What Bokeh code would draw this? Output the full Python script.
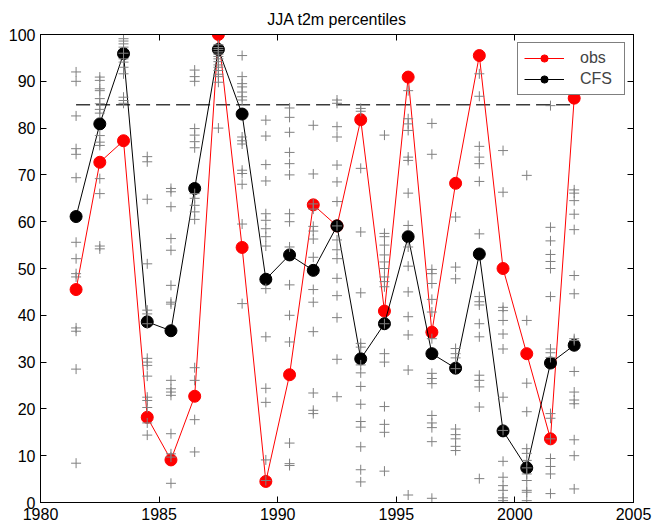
from bokeh.plotting import figure
from bokeh.models import Range1d, LinearAxis, FixedTicker, ColumnDataSource
from bokeh.embed import file_html
from bokeh.resources import INLINE

# x positions of each JJA season
years = [1981.5, 1982.5, 1983.5, 1984.5, 1985.5, 1986.5, 1987.5, 1988.5,
         1989.5, 1990.5, 1991.5, 1992.5, 1993.5, 1994.5, 1995.5, 1996.5,
         1997.5, 1998.5, 1999.5, 2000.5, 2001.5, 2002.5]

# observed t2m percentile
obs = [45.5, 72.7, 77.3, 18.2, 9.1, 22.7, 100.0, 54.5, 4.5, 27.3, 63.6,
       59.1, 81.8, 40.9, 90.9, 36.4, 68.2, 95.5, 50.0, 31.8, 13.6, 86.4]

# CFS forecast percentile
cfs = [61.1, 80.9, 95.9, 38.6, 36.7, 67.1, 96.8, 83.0, 47.7, 52.9, 49.6,
       59.1, 30.7, 38.2, 56.8, 31.8, 28.7, 53.1, 15.3, 7.4, 29.8, 33.6]

# individual CFS ensemble members, one list per season
ens_1981 = [92.0, 90.0, 82.6, 75.6, 74.4, 69.4, 55.6, 52.1, 48.9, 48.2, 37.3, 36.6, 28.5, 8.4]
ens_1982 = [90.9, 90.2, 88.4, 88.0, 86.3, 85.2, 84.0, 83.2, 78.4, 77.0, 76.3, 69.2, 66.0, 54.8, 54.2]
ens_1983 = [99.1, 98.6, 98.0, 97.3, 96.0, 94.8, 94.1, 93.0, 91.6, 86.6, 85.9, 85.3]
ens_1984 = [73.9, 72.8, 64.8, 51.0, 41.1, 40.3, 38.2, 30.8, 30.0, 29.3, 27.0, 22.5, 21.8, 20.3, 17.0, 14.4]
ens_1985 = [67.1, 66.4, 63.2, 56.4, 53.9, 46.4, 42.8, 42.4, 26.1, 24.3, 23.6, 22.9, 14.7, 10.4, 9.7, 4.1]
ens_1986 = [92.4, 91.0, 90.0, 79.9, 78.5, 77.1, 75.8, 66.0, 65.0, 63.5, 62.1, 60.5, 28.8, 26.1, 17.7, 10.8]
ens_1987 = [97.8, 97.2, 96.8, 96.3, 95.8, 95.3, 94.8, 94.2, 93.5, 93.0, 92.3, 91.5, 91.0, 89.8, 80.0]
ens_1988 = [95.5, 91.0, 89.5, 88.8, 87.7, 86.7, 86.0, 78.1, 77.3, 76.6, 71.0, 70.3, 68.0, 59.5, 42.5]
ens_1989 = [81.7, 78.3, 72.2, 68.7, 61.7, 60.3, 58.5, 56.8, 54.8, 45.7, 35.4, 24.4, 21.4, 9.1, 4.7]
ens_1990 = [84.3, 82.3, 79.1, 74.8, 72.4, 70.0, 61.7, 60.0, 54.6, 46.5, 40.0, 34.3, 12.7, 8.3, 7.9]
ens_1991 = [80.6, 70.2, 63.8, 62.7, 59.0, 58.0, 56.3, 52.4, 45.5, 42.8, 36.5, 23.4, 19.7, 19.0]
ens_1992 = [86.0, 85.3, 80.3, 78.1, 72.1, 68.5, 64.3, 59.1, 56.1, 54.0, 52.1, 47.9, 44.2, 39.5, 30.6, 22.6]
ens_1993 = [84.2, 83.6, 71.4, 57.8, 44.8, 34.0, 33.2, 29.4, 27.7, 24.8, 21.0, 17.3, 16.1, 11.9, 7.0, 4.4]
ens_1994 = [78.5, 57.5, 56.8, 55.0, 52.9, 51.4, 50.0, 48.2, 47.2, 46.1, 38.2, 31.8, 30.0, 20.5, 16.7, 15.0, 6.7]
ens_1995 = [88.0, 82.0, 80.9, 79.5, 73.8, 73.1, 66.1, 59.2, 54.6, 50.5, 45.0, 39.7, 35.8, 28.3, 1.6]
ens_1996 = [81.0, 74.4, 49.8, 48.9, 46.8, 43.4, 40.7, 35.0, 27.6, 26.5, 25.4, 18.6, 17.0, 16.0, 13.0, 0.9]
ens_1997 = [61.0, 50.3, 47.8, 32.9, 31.8, 30.9, 28.6, 15.7, 14.5, 13.6, 12.0, 11.1]
ens_1998 = [91.6, 86.8, 76.1, 73.8, 72.4, 68.6, 57.4, 44.0, 42.9, 42.2, 38.2, 35.4, 27.2, 26.1, 24.7, 20.4, 5.1]
ens_1999 = [75.2, 66.3, 41.7, 41.0, 38.9, 36.0, 32.8, 22.5, 15.4, 8.8, 5.4, 3.6, 2.6, 1.0, 0.4]
ens_2000 = [69.9, 38.9, 25.5, 19.4, 11.5, 10.5, 9.0, 7.4, 6.1, 4.7, 2.6, 2.2, 0.4]
ens_2001 = [84.8, 58.8, 55.9, 53.0, 51.5, 50.0, 44.0, 32.8, 32.0, 31.0, 19.0, 18.0, 13.6, 9.4, 7.7, 6.1, 1.9]
ens_2002 = [66.8, 66.1, 64.5, 61.6, 58.3, 48.5, 44.6, 35.0, 34.6, 28.0, 23.6, 21.9, 21.1, 13.4, 10.0, 2.9]

members = [ens_1981, ens_1982, ens_1983, ens_1984, ens_1985, ens_1986, ens_1987,
           ens_1988, ens_1989, ens_1990, ens_1991, ens_1992, ens_1993, ens_1994,
           ens_1995, ens_1996, ens_1997, ens_1998, ens_1999, ens_2000, ens_2001,
           ens_2002]

# upper-tercile style threshold line
threshold = 85

xticks = [1980, 1985, 1990, 1995, 2000, 2005]
yticks = [0, 10, 20, 30, 40, 50, 60, 70, 80, 90, 100]

FONT = "Liberation Sans"

p = figure(width=654, height=526,
           x_range=Range1d(1980, 2005), y_range=Range1d(0, 100),
           output_backend="svg", toolbar_location=None,
           min_border_left=40, min_border_right=21,
           min_border_top=34, min_border_bottom=24)

p.title.text = "JJA t2m percentiles"
p.title.align = "center"
p.title.vertical_align = "top"
p.title.text_font = FONT
p.title.text_font_size = "16px"
p.title.text_font_style = "normal"
p.title.text_color = "black"
p.title.standoff = 9

p.outline_line_color = "black"
p.outline_line_width = 1
p.xgrid.grid_line_color = None
p.ygrid.grid_line_color = None
p.background_fill_color = "white"
p.border_fill_color = "white"


def style_axis(ax, ticks, show_labels):
    ax.ticker = FixedTicker(ticks=ticks)
    ax.major_tick_in = 6
    ax.major_tick_out = 0
    ax.minor_tick_line_color = None
    ax.axis_line_color = "black"
    ax.major_tick_line_color = "black"
    ax.major_label_text_font = FONT
    if show_labels:
        ax.major_label_text_color = "black"
        ax.major_label_text_font_size = "16px"
        ax.major_label_standoff = 5
    else:
        # tick marks only on the box's top and right sides
        ax.major_label_text_color = None
        ax.major_label_text_font_size = "0px"
        ax.major_label_standoff = 0


style_axis(p.xaxis[0], xticks, True)
style_axis(p.yaxis[0], yticks, True)

top_axis = LinearAxis()
style_axis(top_axis, xticks, False)
p.add_layout(top_axis, "above")
right_axis = LinearAxis()
style_axis(right_axis, yticks, False)
p.add_layout(right_axis, "right")

# threshold line spanning the seasons
p.line([years[0], years[-1]], [threshold, threshold],
       line_color="#3a3a3a", line_width=1.5, line_dash="14 6")

src = ColumnDataSource(data=dict(x=years, obs=obs, cfs=cfs))
p.line("x", "obs", source=src, line_color="red", line_width=1, legend_label="obs")
p.scatter("x", "obs", source=src, size=12, fill_color="red", line_color="red",
          legend_label="obs")
p.line("x", "cfs", source=src, line_color="black", line_width=1, legend_label="CFS")
p.scatter("x", "cfs", source=src, size=12, fill_color="black", line_color="black",
          legend_label="CFS")

ens_x = [yr for yr, m in zip(years, members) for _ in m]
ens_y = [v for m in members for v in m]
p.scatter(ens_x, ens_y, marker="cross", size=10, line_color="#808080", line_width=1)

leg = p.legend[0]
leg.location = "top_right"
leg.margin = 8
leg.padding = 6
leg.spacing = 3
leg.glyph_width = 40
leg.glyph_height = 18
leg.label_height = 18
leg.label_width = 38
leg.label_standoff = 16
leg.label_text_font = FONT
leg.label_text_font_size = "16px"
leg.border_line_color = "black"
leg.border_line_width = 1
leg.background_fill_alpha = 1

open("out.html", "w").write(file_html(p, INLINE))
